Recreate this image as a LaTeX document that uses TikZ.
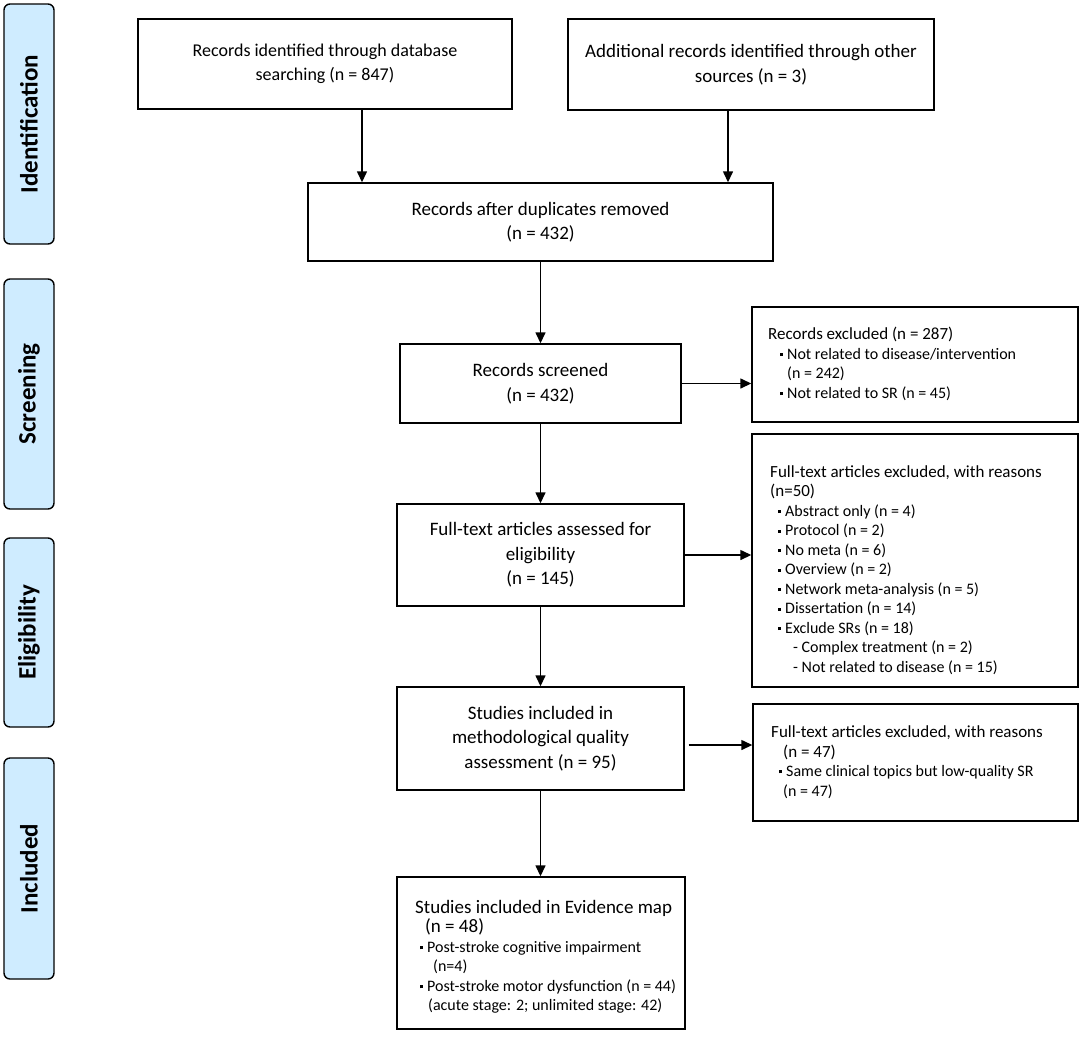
\documentclass[tikz,border=0pt]{standalone}
\usepackage{fontspec}
\setmainfont{Carlito}
\usetikzlibrary{arrows.meta}
\definecolor{stagefill}{RGB}{207,236,255}
\newcommand\sqb{\makebox[7pt][l]{\raisebox{0.2em}{\rule{3pt}{3pt}}}}
\newcommand\bul{\fontsize{16}{19.5}\selectfont}
\begin{document}
\begin{tikzpicture}[x=1pt,y=-1pt,
  box/.style={draw=black, line width=1.4pt, rectangle, inner sep=0pt, align=center, font=\fontsize{19}{24.5}\selectfont},
  rtext/.style={anchor=west, align=left, inner sep=0pt, font=\fontsize{17}{19.5}\selectfont},
  stage/.style={draw=black, line width=1.4pt, fill=stagefill, rounded corners=6pt, rotate=90, minimum height=50pt, inner sep=0pt, font=\fontsize{25}{28}\selectfont\bfseries},
  arr/.style={line width=1.4pt, -{Triangle[width=10pt,length=11pt]}}
]
\useasboundingbox (0,0) rectangle (1084,1042);

% stage labels
\node[stage, minimum width=240pt] (sid) at (29,124) {Identification};
\node[stage, minimum width=230pt] (ssc) at (29,394) {Screening};
\node[stage, minimum width=189pt] (sel) at (29,632.5) {Eligibility};
\node[stage, minimum width=221pt] (sin) at (29,868.5) {Included};

% main boxes
\node[box, minimum width=374pt, minimum height=90pt, font=\fontsize{18}{24.5}\selectfont] (b1) at (325,64) {Records identified through database\\searching (n = 847)};
\node[box, minimum width=366pt, minimum height=91pt] (b2) at (751,64.5) {Additional records identified through other\\sources (n = 3)};
\node[box, minimum width=465pt, minimum height=78pt] (b3) at (540.5,222) {Records after duplicates removed\\(n = 432)};
\node[box, minimum width=281pt, minimum height=79pt] (b4) at (540.5,383.5) {Records screened\\(n = 432)};
\node[box, minimum width=287pt, minimum height=102pt] (b5) at (540.5,555) {Full-text articles assessed for\\eligibility\\(n = 145)};
\node[box, minimum width=287pt, minimum height=103pt] (b6) at (540.5,738.5) {Studies included in\\methodological quality\\assessment (n = 95)};
\node[box, minimum width=288pt, minimum height=152pt] (b7) at (541,953) {};

% right boxes
\node[box, minimum width=326pt, minimum height=115pt] (r1) at (915,364.5) {};
\node[box, minimum width=326pt, minimum height=253pt] (r2) at (915,560.5) {};
\node[box, minimum width=325pt, minimum height=117pt] (r3) at (915.5,762.5) {};

% texts of right boxes and bottom box
\node[rtext] (r1t) at (768,364) {Records excluded (n = 287)\\
\bul\hspace*{12pt}\sqb Not related to disease/intervention\\
\bul\hspace*{19pt}(n = 242)\\
\bul\hspace*{12pt}\sqb Not related to SR (n = 45)};

\node[rtext] (r2t) at (770,570) {Full-text articles excluded, with reasons\\
(n=50)\\
\bul\hspace*{8pt}\sqb Abstract only (n = 4)\\
\bul\hspace*{8pt}\sqb Protocol (n = 2)\\
\bul\hspace*{8pt}\sqb No meta (n = 6)\\
\bul\hspace*{8pt}\sqb Overview (n = 2)\\
\bul\hspace*{8pt}\sqb Network meta-analysis (n = 5)\\
\bul\hspace*{8pt}\sqb Dissertation (n = 14)\\
\bul\hspace*{8pt}\sqb Exclude SRs (n = 18)\\
\bul\hspace*{23pt}- Complex treatment (n = 2)\\
\bul\hspace*{23pt}- Not related to disease (n = 15)};

\node[rtext] (r3t) at (771,762) {Full-text articles excluded, with reasons\\
\hspace*{12pt}(n = 47)\\
\bul\hspace*{8pt}\sqb Same clinical topics but low-quality SR\\
\bul\hspace*{12pt}(n = 47)};

\node[rtext] (b7t) at (415,957) {\fontsize{19}{22}\selectfont Studies included in Evidence map\\
\fontsize{19}{22}\selectfont\hspace*{10pt}(n = 48)\\
\fontsize{16}{18.5}\selectfont\hspace*{5pt}\sqb Post-stroke cognitive impairment\\
\fontsize{16}{18.5}\selectfont\hspace*{18pt}(n=4)\\
\fontsize{16}{18.5}\selectfont\hspace*{5pt}\sqb Post-stroke motor dysfunction (n = 44)\\
\fontsize{16}{18.5}\selectfont\hspace*{13pt}(acute stage: 2; unlimited stage: 42)};

% arrows
\coordinate (a1) at ([xshift=37pt]b1.south);
\draw[arr] (a1) -- (a1 |- b3.north);
\coordinate (a2) at ([xshift=-23pt]b2.south);
\draw[arr] (a2) -- (a2 |- b3.north);
\draw[arr] (b3.south) -- (b4.north);
\draw[arr] (b4.east) -- (b4.east -| r1.west);
\draw[arr] (b4.south) -- (b5.north);
\draw[arr] (b5.east) -- (b5.east -| r2.west);
\draw[arr] (b5.south) -- (b6.north);
\coordinate (a6) at ([xshift=4pt,yshift=-6.5pt]b6.east);
\draw[arr] (a6) -- (a6 -| r3.west);
\draw[arr] (b6.south) -- (b6.south |- b7.north);
\end{tikzpicture}
\end{document}
